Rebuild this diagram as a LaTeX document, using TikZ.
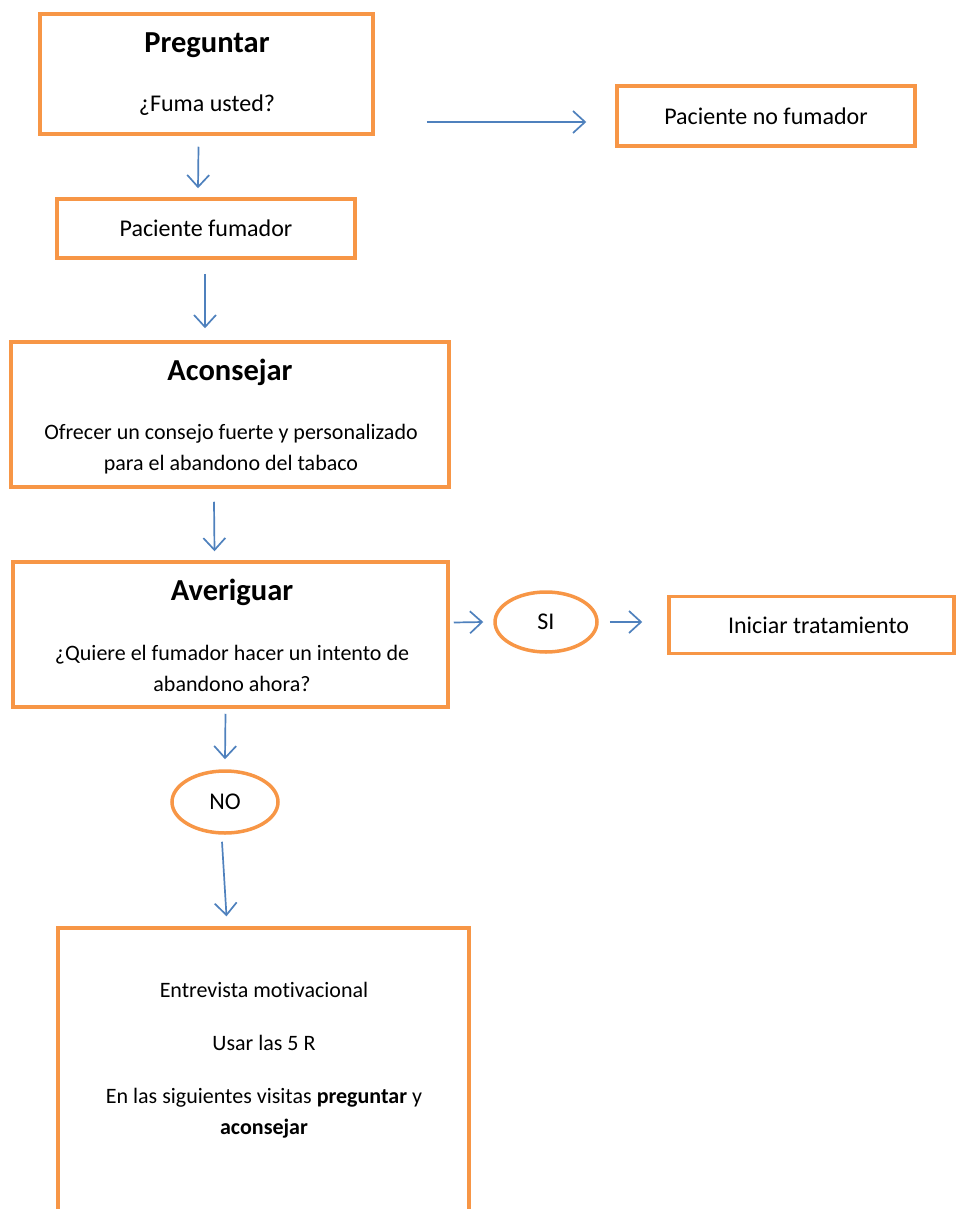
\documentclass[tikz,border=0pt]{standalone}
\usepackage{fontspec}
\setmainfont[Ligatures=NoCommon]{Carlito}
\usetikzlibrary{arrows.meta,shapes.geometric}
\definecolor{boxorange}{HTML}{F79646}
\definecolor{arrblue}{HTML}{4F81BD}
\newcommand{\txt}{\fontsize{24}{29}\selectfont}
\newcommand{\txts}{\fontsize{22}{31}\selectfont}
\newcommand{\ttlf}{\fontsize{30.5}{37}\selectfont\bfseries}
\tikzset{
  box/.style={draw=boxorange, line width=3.5pt, rectangle, inner sep=0pt, align=center, font=\txt},
  oval/.style={draw=boxorange, line width=3.5pt, ellipse, inner sep=0pt, font=\txt},
  arr/.style={draw=arrblue, line width=1.7pt, -{Straight Barb[length=12pt,width=22pt,line width=1.7pt]}},
  ttl/.style={font=\ttlf, inner sep=0pt},
  lbl/.style={font=\txt, align=center, inner sep=0pt},
  lbls/.style={font=\txts, align=center, inner sep=0pt}
}
\begin{document}
\begin{tikzpicture}[x=1pt,y=-1pt]
\useasboundingbox (0,0) rectangle (955,1209);
% boxes
\node[box, minimum width=333pt, minimum height=120pt] (preg) at (206.5,74) {};
\node[ttl] at (207,45) {Preguntar};
\node[lbl] at (207,105) {¿Fuma usted?};
\node[box, minimum width=298pt, minimum height=59pt] (fum) at (206,228.5) {Paciente fumador};
\node[box, minimum width=298pt, minimum height=60pt] (nofum) at (766,116) {Paciente no fumador};
\node[box, minimum width=438pt, minimum height=145pt] (acon) at (230,414.5) {};
\node[ttl] at (230,372) {Aconsejar};
\node[lbls] at (231,449) {Ofrecer un consejo fuerte y personalizado\\para el abandono del tabaco};
\node[box, minimum width=435pt, minimum height=145pt] (aver) at (230.5,634.5) {};
\node[ttl] at (232,592) {Averiguar};
\node[lbls] at (232,668) {¿Quiere el fumador hacer un intento de\\abandono ahora?};
\node[oval, minimum width=102pt, minimum height=60pt] (si) at (546,622) {SI};
\node[box, minimum width=285pt, minimum height=57pt] (ini) at (811.5,625) {\hspace*{14pt}Iniciar tratamiento};
\node[oval, minimum width=106pt, minimum height=62pt] (no) at (225,802) {NO};
\node[box, minimum width=411pt, minimum height=300pt] (entr) at (263.5,1078) {};
\node[lbls] at (264,990) {Entrevista motivacional};
\node[lbls] at (264,1043) {Usar las 5 R};
\node[lbls] at (264,1113) {En las siguientes visitas \textbf{preguntar} y\\\textbf{aconsejar}};
% connectors
\draw[arr] ([shift={(-8,11)}]preg.south) -- ([shift={(-8,-9)}]fum.north);
\draw[arr] ([shift={(52,48)}]preg.east) -- ([shift={(-29,6)}]nofum.west);
\draw[arr] ([shift={(-1,14)}]fum.south) -- ([shift={(-25,-12)}]acon.north);
\draw[arr] ([shift={(-16,13)}]acon.south) -- ([shift={(-16,-9)}]aver.north);
\draw[arr] ([shift={(4,-12)}]aver.east) -- ([shift={(-10,0)}]si.west);
\draw[arr] ([shift={(11,0)}]si.east) -- ([shift={(-25,-3)}]ini.west);
\draw[arr] ([shift={(-5,5)}]aver.south) -- ([shift={(0,-10)}]no.north);
\draw[arr] ([shift={(-3,7)}]no.south) -- ([shift={(-37,-10)}]entr.north);
\end{tikzpicture}
\end{document}
